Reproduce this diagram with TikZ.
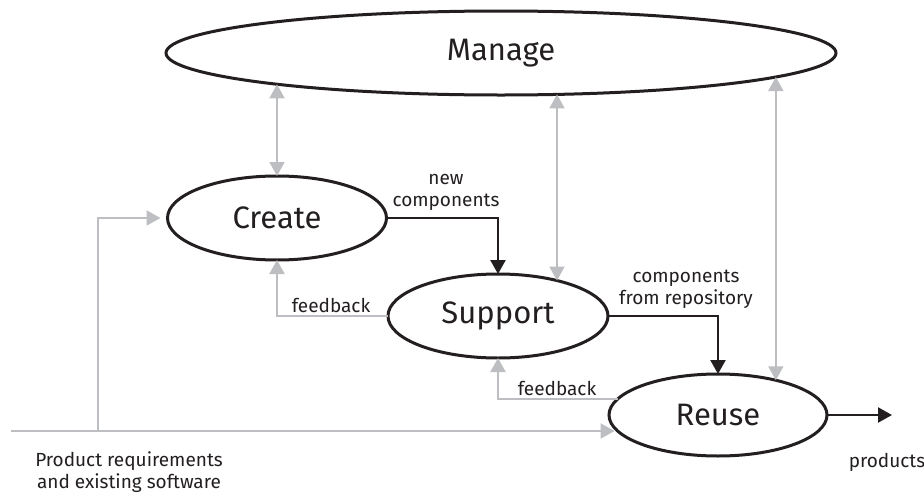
\documentclass[tikz,border=0pt]{standalone}
\usepackage{fontspec}
\setmainfont{Fira Sans}
\usetikzlibrary{arrows.meta,calc,shapes.geometric}
\definecolor{lgray}{HTML}{BDBEC1}
\definecolor{ink}{HTML}{231F20}
\tikzset{
  proc/.style={ellipse,draw=ink,line width=3pt,inner sep=0pt,outer sep=0pt,fill=white,
    font=\fontsize{31}{36}\selectfont,text=ink},
  gline/.style={draw=lgray,line width=2pt},
  gone/.style={gline,-{Triangle[length=14pt,width=15pt]}},
  gboth/.style={gline,{Triangle[length=14pt,width=15pt]}-{Triangle[length=14pt,width=15pt]}},
  bone/.style={draw=ink,line width=2.3pt,-{Triangle[length=14pt,width=15pt]}},
  lbl/.style={font=\fontsize{19}{22}\selectfont,text=ink,align=center,inner sep=0pt}
}
\begin{document}
\begin{tikzpicture}[x=1pt,y=-1pt]
\useasboundingbox (0,0) rectangle (924,493);
% processes
\node[proc,minimum width=670pt,minimum height=84pt] (manage) at (501,53) {Manage};
\node[proc,minimum width=219pt,minimum height=84pt] (create) at (277,218) {Create};
\node[proc,minimum width=220pt,minimum height=84pt] (support) at (498,316) {Support};
\node[proc,minimum width=218pt,minimum height=82pt] (reuse) at (718,415) {Reuse};
% free ends
\coordinate (in) at (11,431);
\coordinate (branch) at (98,431);
\coordinate (out) at (892,415);
% manage links
\draw[gboth] (create.north) -- (create.north |- manage.188);
\draw[gboth] (support.31) -- (support.31 |- manage.-36.5);
\draw[gboth] (reuse.31) -- (reuse.31 |- manage.-5);
% flows
\draw[bone] (create.east) -| (support.north);
\draw[bone] (support.east) -| (reuse.north);
\draw[gone] (support.west) -| (create.south);
\draw[gone] (reuse.171) -| (support.south);
\draw[gone,shorten >=3pt] (in) -- (in -| reuse.189);
\draw[gone,shorten >=7pt] (branch) |- (create.west);
\draw[bone] (reuse.east) -- (out);
% labels
\node[lbl] (l1) at (446,192) {new\\components};
\node[lbl] (l2) at (686,289) {components\\from repository};
\node[lbl] (l3) at (331,305) {feedback};
\node[lbl] (l4) at (557,388) {feedback};
\node[lbl] (l5) at (129,472) {Product requirements\\and existing software};
\node[lbl] (l6) at (887,462) {products};
\end{tikzpicture}
\end{document}
